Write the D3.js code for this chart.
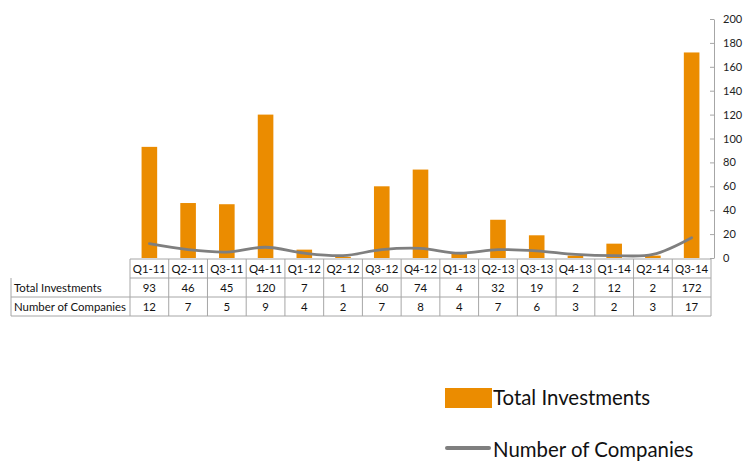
<!DOCTYPE html>
<html>
<head>
<meta charset="utf-8">
<script src="https://d3js.org/d3.v7.min.js"></script>
<style>
  body { margin: 0; background: #fff; }
  svg { display: block; font-family: Lato, "Open Sans", sans-serif; }
</style>
</head>
<body>
<div class="chart"></div>
<script>
var quarters = ['Q1-11', 'Q2-11', 'Q3-11', 'Q4-11', 'Q1-12', 'Q2-12', 'Q3-12', 'Q4-12',
    'Q1-13', 'Q2-13', 'Q3-13', 'Q4-13', 'Q1-14', 'Q2-14', 'Q3-14'];
var investments = [93, 46, 45, 120, 7, 1, 60, 74, 4, 32, 19, 2, 12, 2, 172];
var companies = [12, 7, 5, 9, 4, 2, 7, 8, 4, 7, 6, 3, 2, 3, 17];
var yTicks = [0, 20, 40, 60, 80, 100, 120, 140, 160, 180, 200];

var width = 747, height = 464;
var orange = '#eb8c00';
var grey = '#7f7f7f';
var border = '#a6a6a6';

var svg = d3.select('.chart')
    .append('svg')
    .attr('width', width)
    .attr('height', height);

var plotLeft = 130, plotRight = 711;
var x = d3.scaleBand()
    .domain(quarters)
    .range([plotLeft, plotRight]);

var y = d3.scaleLinear()
    .domain([0, 200])
    .range([258, 19]);

// bars
svg.selectAll('.bar')
    .data(investments)
    .enter()
    .append('rect')
    .attr('class', 'bar')
    .attr('x', function(d, i) { return x(quarters[i]) + x.bandwidth() / 2 - 7.8; })
    .attr('width', 15.6)
    .attr('y', function(d) { return y(d); })
    .attr('height', function(d) { return y(0) - y(d); })
    .attr('fill', orange);

// line
var line = d3.line()
    .x(function(d, i) { return x(quarters[i]) + x.bandwidth() / 2; })
    .y(function(d) { return y(d); })
    .curve(d3.curveCatmullRom.alpha(0.5));

svg.append('path')
    .datum(companies)
    .attr('d', line)
    .attr('fill', 'none')
    .attr('stroke', grey)
    .attr('stroke-width', 2.8)
    .attr('stroke-linecap', 'round');

// right axis
var axis = svg.append('g')
    .attr('transform', 'translate(714,0)')
    .call(d3.axisRight(y).tickValues(yTicks).tickSize(0).tickPadding(9));
axis.select('.domain').attr('stroke', border);
axis.selectAll('.tick line')
    .attr('x1', 0)
    .attr('x2', -4)
    .attr('stroke', border);
axis.selectAll('.tick text')
    .attr('font-size', 11)
    .attr('fill', '#222')
    .attr('font-family', 'Lato, sans-serif');

// data table
var rows = [
    { label: null, values: quarters, top: 259, bottom: 278 },
    { label: 'Total Investments', values: investments, top: 278, bottom: 297 },
    { label: 'Number of Companies', values: companies, top: 297, bottom: 316 }
];
var table = svg.append('g');
var tableLeft = 11;

rows.forEach(function(row, r) {
    var left = row.label ? tableLeft : plotLeft;
    table.append('line')
        .attr('x1', left).attr('x2', plotRight)
        .attr('y1', row.bottom).attr('y2', row.bottom)
        .attr('stroke', border);
    if (r === 0) {
        table.append('line')
            .attr('x1', plotLeft).attr('x2', plotRight)
            .attr('y1', row.top).attr('y2', row.top)
            .attr('stroke', border);
    }
    if (row.label) {
        table.append('text')
            .attr('x', tableLeft + 3)
            .attr('y', (row.top + row.bottom) / 2 + 4)
            .attr('font-size', 11.4)
            .attr('fill', '#111')
            .text(row.label);
    }
    table.selectAll('.cell' + r)
        .data(row.values)
        .enter()
        .append('text')
        .attr('x', function(d, i) { return x(quarters[i]) + x.bandwidth() / 2; })
        .attr('y', (row.top + row.bottom) / 2 + 4)
        .attr('text-anchor', 'middle')
        .attr('font-size', 11.4)
        .attr('fill', '#111')
        .text(function(d) { return d; });
});

// vertical borders
table.append('line')
    .attr('x1', tableLeft).attr('x2', tableLeft)
    .attr('y1', 278).attr('y2', 316)
    .attr('stroke', border);
table.selectAll('.vline')
    .data(quarters.concat(['end']))
    .enter()
    .append('line')
    .attr('x1', function(d, i) { return plotLeft + i * x.bandwidth(); })
    .attr('x2', function(d, i) { return plotLeft + i * x.bandwidth(); })
    .attr('y1', 259)
    .attr('y2', 316)
    .attr('stroke', border);

// legend
var legend = svg.append('g');
legend.append('rect')
    .attr('x', 445).attr('y', 388)
    .attr('width', 47).attr('height', 20)
    .attr('fill', orange);
legend.append('text')
    .attr('x', 493).attr('y', 405)
    .attr('font-size', 20.4)
    .attr('fill', '#111')
    .text('Total Investments');
legend.append('line')
    .attr('x1', 447).attr('x2', 489)
    .attr('y1', 448).attr('y2', 448)
    .attr('stroke', grey)
    .attr('stroke-width', 4)
    .attr('stroke-linecap', 'round');
legend.append('text')
    .attr('x', 493).attr('y', 457)
    .attr('font-size', 20.4)
    .attr('fill', '#111')
    .text('Number of Companies');
</script>
</body>
</html>
